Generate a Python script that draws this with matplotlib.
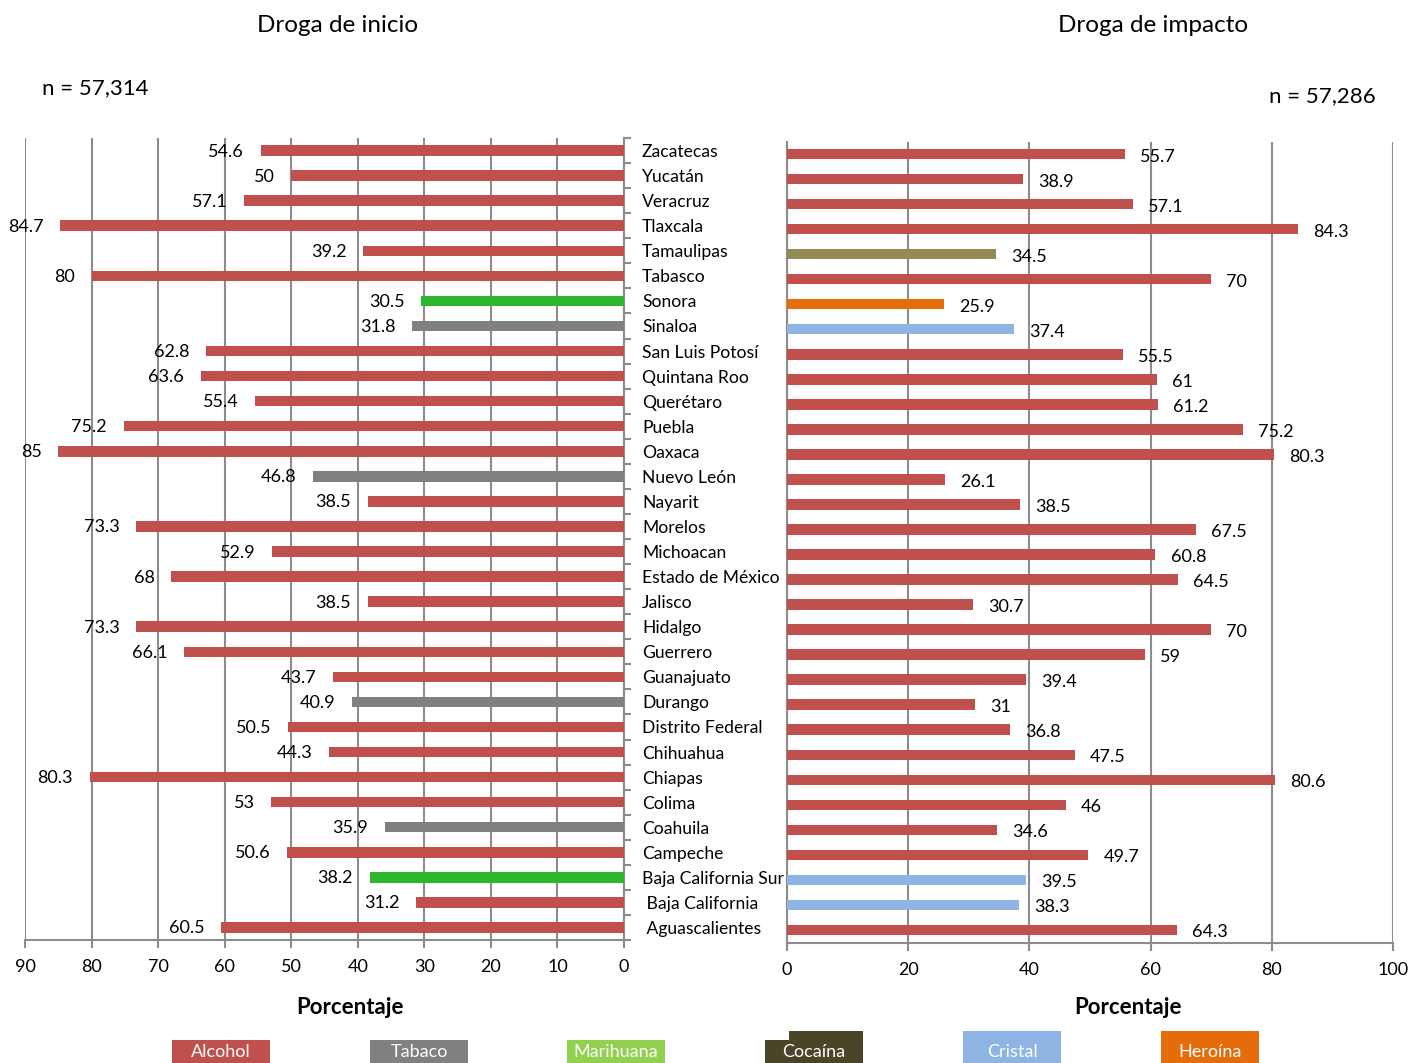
import matplotlib
matplotlib.use("Agg")
import matplotlib.pyplot as plt
from matplotlib.patches import Rectangle
import numpy as np

plt.rcParams["font.family"] = ["Lato", "DejaVu Sans"]

estados = [
    "Zacatecas", "Yucatán", "Veracruz", "Tlaxcala", "Tamaulipas", "Tabasco",
    "Sonora", "Sinaloa", "San Luis Potosí", "Quintana Roo", "Querétaro",
    "Puebla", "Oaxaca", "Nuevo León", "Nayarit", "Morelos", "Michoacan",
    "Estado de México", "Jalisco", "Hidalgo", "Guerrero", "Guanajuato",
    "Durango", "Distrito Federal", "Chihuahua", "Chiapas", "Colima",
    "Coahuila", "Campeche", "Baja California Sur", " Baja California",
    " Aguascalientes",
]

inicio_vals = [
    54.6, 50, 57.1, 84.7, 39.2, 80, 30.5, 31.8, 62.8, 63.6, 55.4, 75.2, 85,
    46.8, 38.5, 73.3, 52.9, 68, 38.5, 73.3, 66.1, 43.7, 40.9, 50.5, 44.3,
    80.3, 53, 35.9, 50.6, 38.2, 31.2, 60.5,
]
inicio_droga = [
    "A", "A", "A", "A", "A", "A", "M", "T", "A", "A", "A", "A", "A",
    "T", "A", "A", "A", "A", "A", "A", "A", "A", "T", "A", "A",
    "A", "A", "T", "A", "M", "A", "A",
]

impacto_vals = [
    55.7, 38.9, 57.1, 84.3, 34.5, 70, 25.9, 37.4, 55.5, 61, 61.2, 75.2, 80.3,
    26.1, 38.5, 67.5, 60.8, 64.5, 30.7, 70, 59, 39.4, 31, 36.8, 47.5,
    80.6, 46, 34.6, 49.7, 39.5, 38.3, 64.3,
]
impacto_droga = [
    "A", "A", "A", "A", "C", "A", "H", "K", "A", "A", "A", "A", "A",
    "A", "A", "A", "A", "A", "A", "A", "A", "A", "A", "A", "A",
    "A", "A", "A", "A", "K", "K", "A",
]

bar_colors = {
    "A": "#C0504D",  # Alcohol
    "T": "#808080",  # Tabaco
    "M": "#2DB52D",  # Marihuana
    "C": "#948A54",  # Cocaína
    "K": "#8EB4E3",  # Cristal
    "H": "#E46C0A",  # Heroína
}

legend_labels = ["Alcohol", "Tabaco", "Marihuana", "Cocaína", "Cristal", "Heroína"]
legend_colors = ["#C0504D", "#808080", "#92D050", "#4A4529", "#8EB4E3", "#E46C0A"]

GRID = "#8C8C8C"
W, H = 1412, 1063

fig = plt.figure(figsize=(W / 100, H / 100), dpi=100)

n = len(estados)
y = np.arange(n)

# ---- left panel: droga de inicio
ax1 = fig.add_axes([25 / W, 1 - 940 / H, 599 / W, 802 / H])
ax1.barh(y, inicio_vals, height=0.42,
         color=[bar_colors[d] for d in inicio_droga], zorder=3)
ax1.set_xlim(90, 0)
ax1.set_ylim(n - 0.5, -0.5)
ax1.set_xticks(np.arange(0, 91, 10))
ax1.xaxis.grid(True, color=GRID, lw=1.5, zorder=0)
for v, yy in zip(inicio_vals, y):
    ax1.text(v + 2.5, yy + 0.04, f"{v:g}", ha="right", va="center", fontsize=13, zorder=4)
ax1.yaxis.tick_right()
ax1.set_yticks(np.arange(-0.5, n, 1.0))
ax1.set_yticklabels([])
ax1.set_yticks(y, minor=True)
ax1.set_yticklabels(estados, minor=True, fontsize=12.6)
ax1.tick_params(axis="y", which="major", direction="out", length=5, color=GRID, width=1.5)
ax1.tick_params(axis="y", which="minor", length=0, pad=13)
ax1.tick_params(axis="x", direction="out", length=6, color=GRID, width=1.5,
                labelsize=13, pad=8)
for s in ["top", "left"]:
    ax1.spines[s].set_visible(False)
for s in ["bottom", "right"]:
    ax1.spines[s].set_color(GRID)
    ax1.spines[s].set_linewidth(1.5)

# ---- right panel: droga de impacto
ax2 = fig.add_axes([787 / W, 1 - 942.5 / H, 606 / W, 801 / H])
ax2.barh(y, impacto_vals, height=0.42,
         color=[bar_colors[d] for d in impacto_droga], zorder=3)
ax2.set_xlim(0, 100)
ax2.set_ylim(n - 0.5, -0.5)
ax2.set_xticks(np.arange(0, 101, 20))
ax2.xaxis.grid(True, color=GRID, lw=1.5, zorder=0)
for v, yy in zip(impacto_vals, y):
    ax2.text(v + 2.5, yy + 0.1, f"{v:g}", ha="left", va="center", fontsize=13, zorder=4)
ax2.set_yticks([])
ax2.tick_params(axis="x", direction="out", length=6, color=GRID, width=1.5,
                labelsize=13, pad=8)
for s in ["top", "right"]:
    ax2.spines[s].set_visible(False)
for s in ["bottom", "left"]:
    ax2.spines[s].set_color(GRID)
    ax2.spines[s].set_linewidth(1.5)

# ---- titles and notes
fig.text(338 / W, 1 - 25 / H, "Droga de inicio", ha="center", va="center", fontsize=17.5)
fig.text(1153 / W, 1 - 25 / H, "Droga de impacto", ha="center", va="center", fontsize=17.5)
fig.text(42 / W, 1 - 88 / H, "n = 57,314", ha="left", va="center", fontsize=16)
fig.text(1376 / W, 1 - 96 / H, "n = 57,286", ha="right", va="center", fontsize=16)
fig.text(350 / W, 1 - 1008 / H, "Porcentaje", ha="center", va="center",
         fontsize=16, fontweight="bold")
fig.text(1128 / W, 1 - 1007 / H, "Porcentaje", ha="center", va="center",
         fontsize=16, fontweight="bold")

# ---- legend boxes along the bottom (left edge, top edge in pixels)
box_left = [172, 370, 567, 765, 963, 1161]
box_top = [1040, 1040, 1040, 1040, 1031, 1031]
box_w = 98
for lab, col, bl, bt in zip(legend_labels, legend_colors, box_left, box_top):
    fig.patches.append(Rectangle((bl / W, 0), box_w / W, (H - bt) / H,
                                 transform=fig.transFigure, facecolor=col, edgecolor="none"))
    if lab == "Cocaína":
        fig.patches.append(Rectangle(((bl + 24) / W, 0), (box_w - 24) / W, (H - 1031) / H,
                                     transform=fig.transFigure, facecolor=col, edgecolor="none"))
    fig.text((bl + box_w / 2) / W, 1 - 1052 / H, lab, ha="center", va="center",
             color="white", fontsize=13)

fig.savefig("out.png", dpi=100)
